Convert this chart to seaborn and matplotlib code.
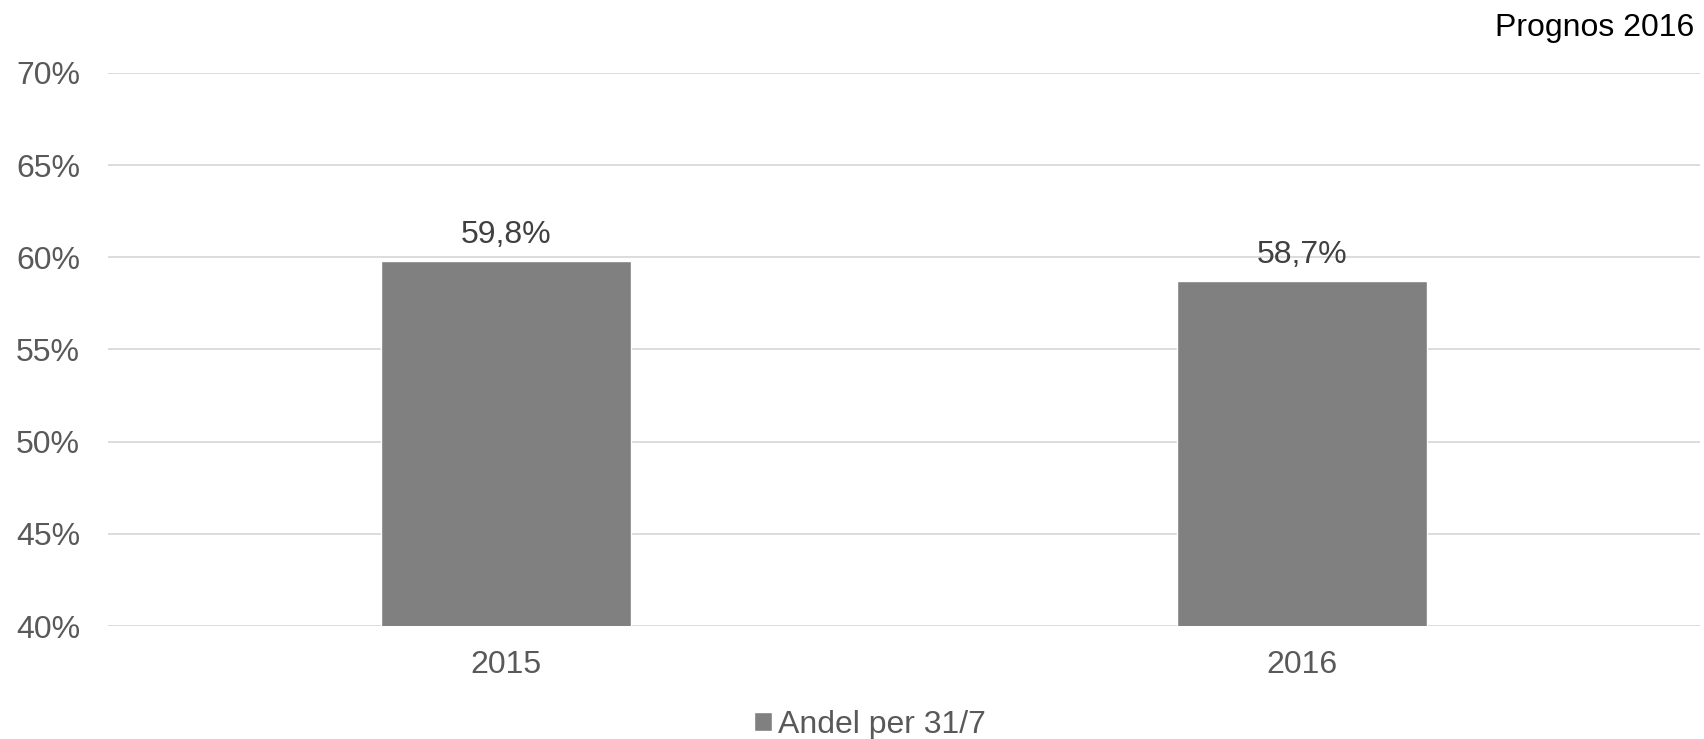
import pandas as pd
import matplotlib.pyplot as plt
import seaborn as sns

# Chart data
years = ["2015", "2016"]
shares = [0.598, 0.587]
value_labels = ["59,8%", "58,7%"]
series_name = "Andel per 31/7"
y_ticks = [0.40, 0.45, 0.50, 0.55, 0.60, 0.65, 0.70]
y_tick_labels = ["40%", "45%", "50%", "55%", "60%", "65%", "70%"]

df = pd.DataFrame({"Year": years, "Share": shares, "Series": series_name})

sns.set_style("white")
plt.rcParams["font.family"] = ["Liberation Sans", "DejaVu Sans"]

fig = plt.figure(figsize=(17.04, 7.39), dpi=100)
ax = fig.add_axes([108 / 1704, 1 - 626 / 739, (1700 - 108) / 1704, (626 - 73) / 739])

sns.barplot(
    data=df, x="Year", y="Share", hue="Series",
    palette=["#808080"], width=0.314, dodge=False, ax=ax, zorder=3,
)

ax.set_ylim(0.40, 0.70)
ax.set_xlim(-0.5, 1.5)
ax.set_yticks(y_ticks)
ax.set_yticklabels(y_tick_labels)
ax.yaxis.grid(True, color="#d9d9d9", linewidth=1.3, zorder=0)
ax.set_axisbelow(True)
ax.set_xlabel("")
ax.set_ylabel("")
for side in ["top", "right", "left", "bottom"]:
    ax.spines[side].set_visible(False)
ax.tick_params(axis="y", length=0, pad=20, labelsize=23, labelcolor="#595959")
ax.tick_params(axis="x", length=0, pad=17, labelsize=23, labelcolor="#595959")

# Value labels above bars
for i, (v, lab) in enumerate(zip(shares, value_labels)):
    ax.annotate(lab, (i, v), xytext=(0, 8), textcoords="offset points",
                ha="center", va="bottom", fontsize=23, color="#404040")

# Legend at the bottom
handles, labels = ax.get_legend_handles_labels()
ax.legend(handles, labels, loc="center",
          bbox_to_anchor=(870 / 1704, 1 - 725 / 739), bbox_transform=fig.transFigure,
          frameon=False, fontsize=23, labelcolor="#595959",
          handlelength=0.55, handleheight=0.55, handletextpad=0.2)

fig.text(1694 / 1704, 1 - 28 / 739, "Prognos 2016", ha="right", va="center",
         fontsize=23, color="black")

plt.savefig("out.png", dpi=100)
